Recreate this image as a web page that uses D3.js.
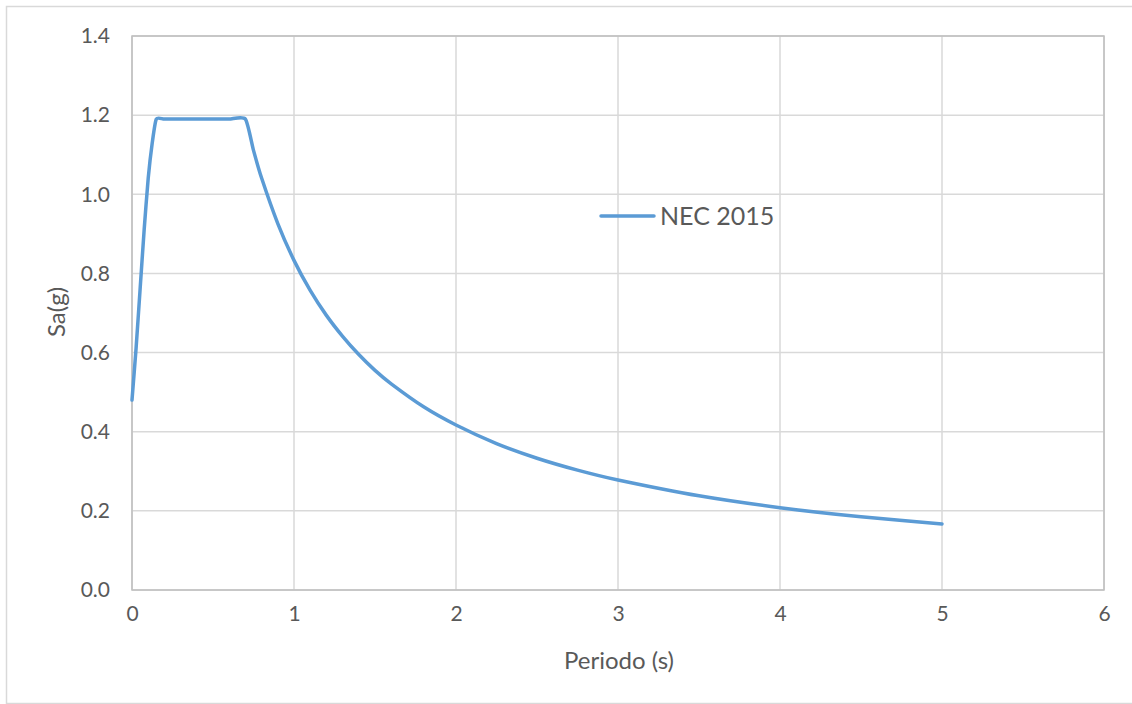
<!DOCTYPE html>
<html>
<head>
<meta charset="utf-8">
<script src="https://cdn.jsdelivr.net/npm/d3@7"></script>
<style>
  body { margin: 0; background: #fff; }
  svg text { font-family: "Lato", "Liberation Sans", sans-serif; fill: #595959; }
</style>
</head>
<body>
<svg id="chart" width="1132" height="704"></svg>
<script>
// periods (s) and spectral acceleration (g)
var periods = [0, 0.025, 0.05, 0.075, 0.1, 0.125, 0.15, 0.2, 0.3, 0.4, 0.5, 0.6, 0.7, 0.75, 0.8, 0.9, 1.0, 1.1, 1.2, 1.3, 1.4, 1.5, 1.6, 1.8, 2.0, 2.25, 2.5, 2.75, 3.0, 3.5, 4.0, 4.5, 5.0];
var saValues = [0.48, 0.61, 0.76, 0.91, 1.04, 1.13, 1.19, 1.19, 1.19, 1.19, 1.19, 1.19, 1.19, 1.111, 1.041, 0.926, 0.833, 0.757, 0.694, 0.641, 0.595, 0.555, 0.521, 0.463, 0.417, 0.370, 0.333, 0.303, 0.278, 0.238, 0.208, 0.185, 0.167];
var xTicks = [0, 1, 2, 3, 4, 5, 6];
var yTicks = [0, 0.2, 0.4, 0.6, 0.8, 1.0, 1.2, 1.4];
var seriesName = "NEC 2015";

var svg = d3.select("#chart");
var margin = {left: 132, right: 28, top: 36, bottom: 114};
var width = 1132 - margin.left - margin.right,
    height = 704 - margin.top - margin.bottom;

// chart outer border
svg.append("rect")
  .attr("x", 6.5).attr("y", 6.5)
  .attr("width", 1140).attr("height", 697)
  .attr("fill", "none").attr("stroke", "#d9d9d9").attr("stroke-width", 1.5);

var x = d3.scaleLinear().domain([0, 6]).range([0, width]);
var y = d3.scaleLinear().domain([0, 1.4]).range([height, 0]);

var g = svg.append("g").attr("transform", "translate(" + margin.left + "," + margin.top + ")");

// gridlines
g.append("g").selectAll("line.h")
  .data(yTicks).enter().append("line")
  .attr("x1", 0).attr("x2", width)
  .attr("y1", function(d) { return y(d); }).attr("y2", function(d) { return y(d); })
  .attr("stroke", "#d9d9d9").attr("stroke-width", 1.5);

g.append("g").selectAll("line.v")
  .data(xTicks).enter().append("line")
  .attr("y1", 0).attr("y2", height)
  .attr("x1", function(d) { return x(d); }).attr("x2", function(d) { return x(d); })
  .attr("stroke", "#d9d9d9").attr("stroke-width", 1.5);

// plot area border
g.append("rect")
  .attr("width", width).attr("height", height)
  .attr("fill", "none").attr("stroke", "#bfbfbf").attr("stroke-width", 1.5);

// axes (labels only)
var xAxis = g.append("g")
  .attr("transform", "translate(0," + height + ")")
  .call(d3.axisBottom(x).tickValues(xTicks).tickSize(0).tickPadding(16).tickFormat(d3.format("d")));
var yAxis = g.append("g")
  .call(d3.axisLeft(y).tickValues(yTicks).tickSize(0).tickPadding(22).tickFormat(d3.format(".1f")));
[xAxis, yAxis].forEach(function(a) {
  a.select(".domain").remove();
  a.selectAll("text").style("font-size", "21px").attr("fill", "#595959")
    .style("font-family", "Lato, 'Liberation Sans', sans-serif");
});

// series
var line = d3.line()
  .x(function(d, i) { return x(periods[i]); })
  .y(function(d) { return y(d); })
  .curve(d3.curveCardinal.tension(0.4));

g.append("path")
  .datum(saValues)
  .attr("d", line)
  .attr("fill", "none")
  .attr("stroke", "#5b9bd5")
  .attr("stroke-width", 3.5)
  .attr("stroke-linejoin", "round")
  .attr("stroke-linecap", "round");

// legend
var leg = svg.append("g").attr("transform", "translate(601,216)");
leg.append("line").attr("x1", 0).attr("x2", 53)
  .attr("stroke", "#5b9bd5").attr("stroke-width", 3.5).attr("stroke-linecap", "round");
leg.append("text").attr("x", 59).attr("dy", "0.35em")
  .style("font-size", "25px").text(seriesName);

// axis titles
svg.append("text")
  .attr("x", 619).attr("y", 669)
  .attr("text-anchor", "middle")
  .style("font-size", "24px")
  .text("Periodo (s)");

svg.append("text")
  .attr("transform", "translate(65,312) rotate(-90)")
  .attr("text-anchor", "middle")
  .style("font-size", "24px")
  .text("Sa(g)");
</script>
</body>
</html>
